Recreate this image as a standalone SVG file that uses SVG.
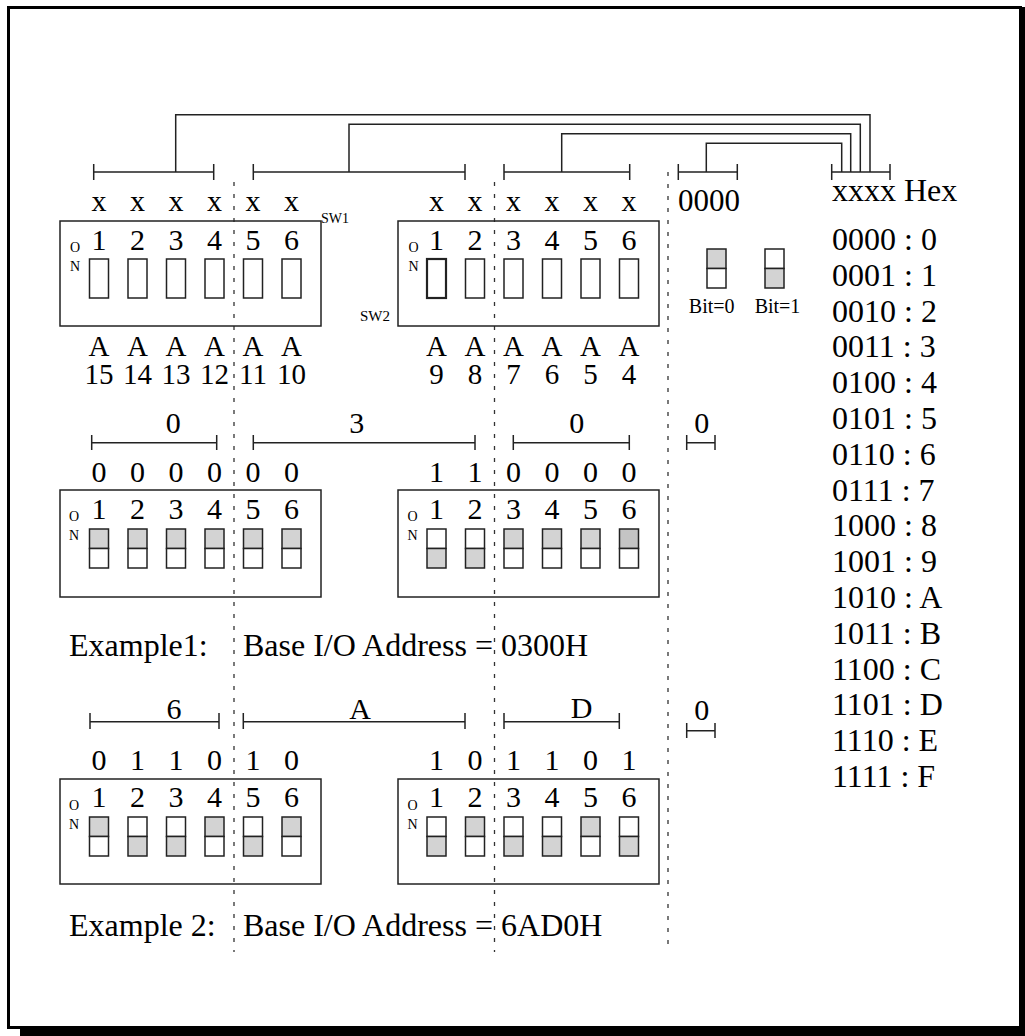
<svg xmlns="http://www.w3.org/2000/svg" width="1025" height="1036" viewBox="0 0 1025 1036">
<style>
text{font-family:"Liberation Serif","Times New Roman",serif;fill:#000}
.big{font-size:30px;text-anchor:middle}
.adr{font-size:29px;text-anchor:middle}
.hex{font-size:32px}
.ex{font-size:32px}
.on{font-size:14px;text-anchor:middle}
.small{font-size:14px}
.bit{font-size:20px;text-anchor:middle}
.box{fill:none;stroke:#222;stroke-width:1.5}
.sw{fill:#fff;stroke:#222;stroke-width:1.5}
.g{fill:#d3d3d3;stroke:#222;stroke-width:1.5}
.ln{fill:none;stroke:#222;stroke-width:1.5}
.dot{fill:none;stroke:#333;stroke-width:1.3;stroke-dasharray:4 8}
</style>
<rect x="0" y="0" width="1025" height="1036" fill="#fff"/>
<g id="frame">
<rect x="8.5" y="7.5" width="1012" height="1020" fill="none" stroke="#000" stroke-width="3"/>
<rect x="20" y="1027" width="1005" height="9" fill="#000"/>
<rect x="1021" y="7" width="4" height="1029" fill="#000"/>
</g>
<g id="connectors">
<path class="ln" d="M175.7 172V114.7H870V172M349 172V124.3H860.3V172M561.7 172V133.7H850.7V172M706.3 172V143.3H841.7V172"/>
<path class="ln" d="M93.7 172H213.7M93.7 164V180M213.7 164V180M253.3 172H465M253.3 164V180M465 164V180M504 172H629.7M504 164V180M629.7 164V180M678.3 172H737.3M678.3 164V180M737.3 164V180M831.7 172H890M831.7 164V180M890 164V180"/>
<path class="ln" d="M91.7 442.7H216.7M91.7 435V450M216.7 435V450M253.3 442.7H475M253.3 435V450M475 435V450M513.3 442.7H629.3M513.3 435V450M629.3 435V450M686.7 442.7H715M686.7 435V450M715 435V450"/>
<path class="ln" d="M90 721.7H219M90 713V729M219 713V729M243.3 721.7H465M243.3 713V729M465 713V729M504 721.7H619.3M504 713V729M619.3 713V729M686.7 730.7H715M686.7 723V738M715 723V738"/>
<path class="dot" d="M234 182V952M494.5 182V952M668 172V945"/>
</g>
<g id="header-labels">
<text class="big" x="99" y="211">x</text><text class="big" x="137.5" y="211">x</text><text class="big" x="176" y="211">x</text><text class="big" x="214.5" y="211">x</text><text class="big" x="253" y="211">x</text><text class="big" x="291.5" y="211">x</text>
<text class="big" x="436.5" y="211">x</text><text class="big" x="475" y="211">x</text><text class="big" x="513.5" y="211">x</text><text class="big" x="552" y="211">x</text><text class="big" x="590.5" y="211">x</text><text class="big" x="629" y="211">x</text>
<text class="big" x="678" y="211" style="text-anchor:start;font-size:31px">0000</text>
<text class="hex" x="832" y="201">xxxx Hex</text>
</g>
<g id="sw1">
<rect class="box" x="60" y="221" width="261" height="105"/>
<text class="small" x="321" y="223">SW1</text>
<text class="on" x="75" y="252">O</text><text class="on" x="75" y="271">N</text>
<text class="big" x="99" y="250">1</text><text class="big" x="137.5" y="250">2</text><text class="big" x="176" y="250">3</text><text class="big" x="214.5" y="250">4</text><text class="big" x="253" y="250">5</text><text class="big" x="291.5" y="250">6</text>
<rect class="sw" x="89.5" y="259" width="19" height="39"/><rect class="sw" x="128" y="259" width="19" height="39"/><rect class="sw" x="166.5" y="259" width="19" height="39"/><rect class="sw" x="205" y="259" width="19" height="39"/><rect class="sw" x="243.5" y="259" width="19" height="39"/><rect class="sw" x="282" y="259" width="19" height="39"/>
<text class="adr" x="99" y="356">A</text><text class="adr" x="137.5" y="356">A</text><text class="adr" x="176" y="356">A</text><text class="adr" x="214.5" y="356">A</text><text class="adr" x="253" y="356">A</text><text class="adr" x="291.5" y="356">A</text>
<text class="adr" x="99" y="384">15</text><text class="adr" x="137.5" y="384">14</text><text class="adr" x="176" y="384">13</text><text class="adr" x="214.5" y="384">12</text><text class="adr" x="253" y="384">11</text><text class="adr" x="291.5" y="384">10</text>
</g>
<g id="sw2">
<rect class="box" x="398" y="221" width="261" height="105"/>
<text class="small" x="360" y="321" style="font-size:15px">SW2</text>
<text class="on" x="413.5" y="252">O</text><text class="on" x="413.5" y="271">N</text>
<text class="big" x="436.5" y="250">1</text><text class="big" x="475" y="250">2</text><text class="big" x="513.5" y="250">3</text><text class="big" x="552" y="250">4</text><text class="big" x="590.5" y="250">5</text><text class="big" x="629" y="250">6</text>
<rect class="sw" x="427" y="259" width="19" height="39" style="stroke-width:2.2"/><rect class="sw" x="465.5" y="259" width="19" height="39"/><rect class="sw" x="504" y="259" width="19" height="39"/><rect class="sw" x="542.5" y="259" width="19" height="39"/><rect class="sw" x="581" y="259" width="19" height="39"/><rect class="sw" x="619.5" y="259" width="19" height="39"/>
<text class="adr" x="436.5" y="356">A</text><text class="adr" x="475" y="356">A</text><text class="adr" x="513.5" y="356">A</text><text class="adr" x="552" y="356">A</text><text class="adr" x="590.5" y="356">A</text><text class="adr" x="629" y="356">A</text>
<text class="adr" x="436.5" y="384">9</text><text class="adr" x="475" y="384">8</text><text class="adr" x="513.5" y="384">7</text><text class="adr" x="552" y="384">6</text><text class="adr" x="590.5" y="384">5</text><text class="adr" x="629" y="384">4</text>
</g>
<g id="legend">
<rect class="g" x="707" y="249" width="19" height="19.5"/><rect class="sw" x="707" y="268.5" width="19" height="19.5"/>
<rect class="sw" x="765" y="249" width="19" height="19.5"/><rect class="g" x="765" y="268.5" width="19" height="19.5"/>
<text class="bit" x="711.7" y="313">Bit=0</text><text class="bit" x="777.5" y="313">Bit=1</text>
</g>
<g id="hex-table">
<text class="hex" x="832" y="250">0000 : 0</text>
<text class="hex" x="832" y="285.8">0001 : 1</text>
<text class="hex" x="832" y="321.6">0010 : 2</text>
<text class="hex" x="832" y="357.4">0011 : 3</text>
<text class="hex" x="832" y="393.2">0100 : 4</text>
<text class="hex" x="832" y="429">0101 : 5</text>
<text class="hex" x="832" y="464.8">0110 : 6</text>
<text class="hex" x="832" y="500.6">0111 : 7</text>
<text class="hex" x="832" y="536.4">1000 : 8</text>
<text class="hex" x="832" y="572.2">1001 : 9</text>
<text class="hex" x="832" y="608">1010 : A</text>
<text class="hex" x="832" y="643.8">1011 : B</text>
<text class="hex" x="832" y="679.6">1100 : C</text>
<text class="hex" x="832" y="715.4">1101 : D</text>
<text class="hex" x="832" y="751.2">1110 : E</text>
<text class="hex" x="832" y="787">1111 : F</text>
</g>
<g id="example1">
<text class="big" x="173.3" y="433">0</text><text class="big" x="356.7" y="433">3</text><text class="big" x="576.7" y="433">0</text><text class="big" x="701.7" y="433">0</text>
<text class="big" x="99" y="482">0</text><text class="big" x="137.5" y="482">0</text><text class="big" x="176" y="482">0</text><text class="big" x="214.5" y="482">0</text><text class="big" x="253" y="482">0</text><text class="big" x="291.5" y="482">0</text>
<text class="big" x="436.5" y="482">1</text><text class="big" x="475" y="482">1</text><text class="big" x="513.5" y="482">0</text><text class="big" x="552" y="482">0</text><text class="big" x="590.5" y="482">0</text><text class="big" x="629" y="482">0</text>
<rect class="box" x="60" y="490" width="261" height="107"/>
<text class="on" x="74" y="521">O</text><text class="on" x="74" y="540">N</text>
<text class="big" x="99" y="519">1</text><text class="big" x="137.5" y="519">2</text><text class="big" x="176" y="519">3</text><text class="big" x="214.5" y="519">4</text><text class="big" x="253" y="519">5</text><text class="big" x="291.5" y="519">6</text>
<g>
<rect class="g" x="89.5" y="529" width="19" height="19.5"/><rect class="sw" x="89.5" y="548.5" width="19" height="19.5"/>
<rect class="g" x="128" y="529" width="19" height="19.5"/><rect class="sw" x="128" y="548.5" width="19" height="19.5"/>
<rect class="g" x="166.5" y="529" width="19" height="19.5"/><rect class="sw" x="166.5" y="548.5" width="19" height="19.5"/>
<rect class="g" x="205" y="529" width="19" height="19.5"/><rect class="sw" x="205" y="548.5" width="19" height="19.5"/>
<rect class="g" x="243.5" y="529" width="19" height="19.5"/><rect class="sw" x="243.5" y="548.5" width="19" height="19.5"/>
<rect class="g" x="282" y="529" width="19" height="19.5"/><rect class="sw" x="282" y="548.5" width="19" height="19.5"/>
</g>
<rect class="box" x="398" y="490" width="261" height="107"/>
<text class="on" x="412.5" y="521">O</text><text class="on" x="412.5" y="540">N</text>
<text class="big" x="436.5" y="519">1</text><text class="big" x="475" y="519">2</text><text class="big" x="513.5" y="519">3</text><text class="big" x="552" y="519">4</text><text class="big" x="590.5" y="519">5</text><text class="big" x="629" y="519">6</text>
<g>
<rect class="sw" x="427" y="529" width="19" height="19.5"/><rect class="g" x="427" y="548.5" width="19" height="19.5"/>
<rect class="sw" x="465.5" y="529" width="19" height="19.5"/><rect class="g" x="465.5" y="548.5" width="19" height="19.5"/>
<rect class="g" x="504" y="529" width="19" height="19.5"/><rect class="sw" x="504" y="548.5" width="19" height="19.5"/>
<rect class="g" x="542.5" y="529" width="19" height="19.5"/><rect class="sw" x="542.5" y="548.5" width="19" height="19.5"/>
<rect class="g" x="581" y="529" width="19" height="19.5"/><rect class="sw" x="581" y="548.5" width="19" height="19.5"/>
<rect class="g" x="619.5" y="529" width="19" height="19.5" style="fill:#c4c4c4"/><rect class="sw" x="619.5" y="548.5" width="19" height="19.5"/>
</g>
<text class="ex" x="69" y="656">Example1:</text>
<text class="ex" x="243" y="656">Base I/O Address = 0300H</text>
</g>
<g id="example2">
<text class="big" x="174" y="719">6</text><text class="big" x="360" y="719">A</text><text class="big" x="581.7" y="718">D</text><text class="big" x="701.7" y="720">0</text>
<text class="big" x="99" y="770">0</text><text class="big" x="137.5" y="770">1</text><text class="big" x="176" y="770">1</text><text class="big" x="214.5" y="770">0</text><text class="big" x="253" y="770">1</text><text class="big" x="291.5" y="770">0</text>
<text class="big" x="436.5" y="770">1</text><text class="big" x="475" y="770">0</text><text class="big" x="513.5" y="770">1</text><text class="big" x="552" y="770">1</text><text class="big" x="590.5" y="770">0</text><text class="big" x="629" y="770">1</text>
<rect class="box" x="60" y="779" width="261" height="105"/>
<text class="on" x="74" y="810">O</text><text class="on" x="74" y="829">N</text>
<text class="big" x="99" y="807">1</text><text class="big" x="137.5" y="807">2</text><text class="big" x="176" y="807">3</text><text class="big" x="214.5" y="807">4</text><text class="big" x="253" y="807">5</text><text class="big" x="291.5" y="807">6</text>
<g>
<rect class="g" x="89.5" y="817" width="19" height="19.5"/><rect class="sw" x="89.5" y="836.5" width="19" height="19.5"/>
<rect class="sw" x="128" y="817" width="19" height="19.5"/><rect class="g" x="128" y="836.5" width="19" height="19.5"/>
<rect class="sw" x="166.5" y="817" width="19" height="19.5"/><rect class="g" x="166.5" y="836.5" width="19" height="19.5"/>
<rect class="g" x="205" y="817" width="19" height="19.5"/><rect class="sw" x="205" y="836.5" width="19" height="19.5"/>
<rect class="sw" x="243.5" y="817" width="19" height="19.5"/><rect class="g" x="243.5" y="836.5" width="19" height="19.5"/>
<rect class="g" x="282" y="817" width="19" height="19.5"/><rect class="sw" x="282" y="836.5" width="19" height="19.5"/>
</g>
<rect class="box" x="398" y="779" width="261" height="105"/>
<text class="on" x="412.5" y="810">O</text><text class="on" x="412.5" y="829">N</text>
<text class="big" x="436.5" y="807">1</text><text class="big" x="475" y="807">2</text><text class="big" x="513.5" y="807">3</text><text class="big" x="552" y="807">4</text><text class="big" x="590.5" y="807">5</text><text class="big" x="629" y="807">6</text>
<g>
<rect class="sw" x="427" y="817" width="19" height="19.5"/><rect class="g" x="427" y="836.5" width="19" height="19.5"/>
<rect class="g" x="465.5" y="817" width="19" height="19.5"/><rect class="sw" x="465.5" y="836.5" width="19" height="19.5"/>
<rect class="sw" x="504" y="817" width="19" height="19.5"/><rect class="g" x="504" y="836.5" width="19" height="19.5"/>
<rect class="sw" x="542.5" y="817" width="19" height="19.5"/><rect class="g" x="542.5" y="836.5" width="19" height="19.5"/>
<rect class="g" x="581" y="817" width="19" height="19.5"/><rect class="sw" x="581" y="836.5" width="19" height="19.5"/>
<rect class="sw" x="619.5" y="817" width="19" height="19.5"/><rect class="g" x="619.5" y="836.5" width="19" height="19.5"/>
</g>
<text class="ex" x="69" y="936">Example 2:</text>
<text class="ex" x="243" y="936">Base I/O Address = 6AD0H</text>
</g>
</svg>
